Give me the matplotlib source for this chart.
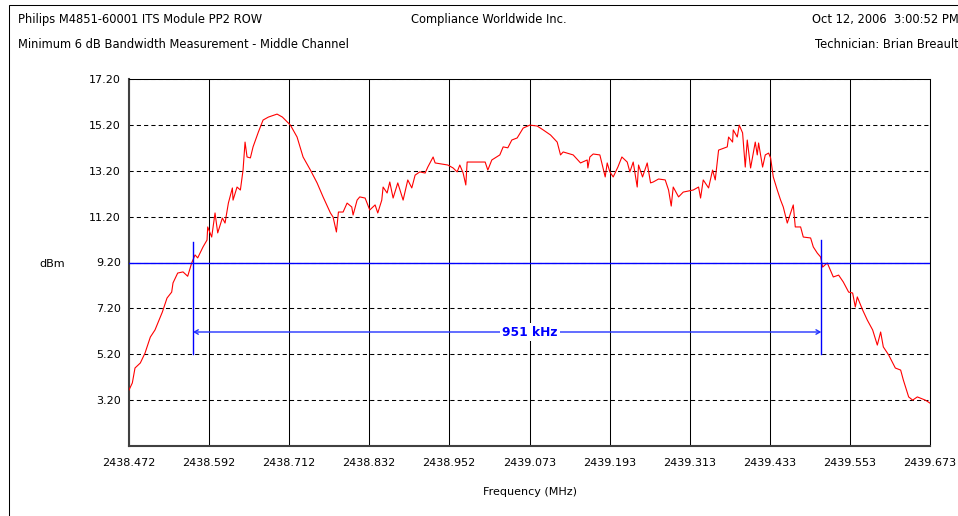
import matplotlib
matplotlib.use("Agg")
import matplotlib.pyplot as plt
from matplotlib.patches import Rectangle

# Spectrum trace (frequency in MHz, level in dBm)
freq_mhz = [
    2438.472, 2438.477, 2438.481, 2438.489, 2438.496, 2438.504, 2438.511, 2438.522,
    2438.529, 2438.536, 2438.538, 2438.545, 2438.553, 2438.560, 2438.566, 2438.571,
    2438.575, 2438.583, 2438.589, 2438.590, 2438.596, 2438.601, 2438.605, 2438.612,
    2438.616, 2438.621, 2438.627, 2438.628, 2438.634, 2438.639, 2438.643, 2438.646,
    2438.649, 2438.654, 2438.658, 2438.666, 2438.673, 2438.681, 2438.694, 2438.702,
    2438.714, 2438.724, 2438.733, 2438.744, 2438.754, 2438.763, 2438.774, 2438.778,
    2438.783, 2438.786, 2438.793, 2438.799, 2438.806, 2438.808, 2438.814, 2438.818,
    2438.826, 2438.833, 2438.841, 2438.845, 2438.851, 2438.853, 2438.859, 2438.863,
    2438.868, 2438.875, 2438.883, 2438.890, 2438.896, 2438.901, 2438.908, 2438.916,
    2438.920, 2438.928, 2438.931, 2438.950, 2438.958, 2438.964, 2438.968, 2438.973,
    2438.977, 2438.979, 2439.006, 2439.010, 2439.016, 2439.028, 2439.033, 2439.040,
    2439.046, 2439.054, 2439.063, 2439.073, 2439.084, 2439.093, 2439.104, 2439.114,
    2439.119, 2439.123, 2439.138, 2439.149, 2439.159, 2439.160, 2439.163, 2439.168,
    2439.178, 2439.186, 2439.189, 2439.193, 2439.198, 2439.205, 2439.211, 2439.219,
    2439.223, 2439.228, 2439.234, 2439.236, 2439.242, 2439.249, 2439.254, 2439.258,
    2439.266, 2439.276, 2439.281, 2439.285, 2439.288, 2439.296, 2439.303, 2439.318,
    2439.326, 2439.329, 2439.333, 2439.341, 2439.347, 2439.351, 2439.356, 2439.369,
    2439.371, 2439.377, 2439.378, 2439.384, 2439.387, 2439.392, 2439.396, 2439.399,
    2439.404, 2439.411, 2439.414, 2439.416, 2439.422, 2439.426, 2439.431, 2439.434,
    2439.438, 2439.444, 2439.449, 2439.453, 2439.459, 2439.464, 2439.468, 2439.471,
    2439.479, 2439.483, 2439.494, 2439.498, 2439.504, 2439.509, 2439.512, 2439.519,
    2439.528, 2439.536, 2439.543, 2439.551, 2439.557, 2439.561, 2439.564, 2439.572,
    2439.579, 2439.587, 2439.594, 2439.599, 2439.603, 2439.611, 2439.621, 2439.629,
    2439.633, 2439.641, 2439.647, 2439.654, 2439.666, 2439.673,
]
level_dbm = [
    3.64, 3.95, 4.60, 4.82, 5.25, 5.95, 6.26, 7.04,
    7.65, 7.91, 8.31, 8.74, 8.79, 8.60, 9.18, 9.53,
    9.40, 9.88, 10.18, 10.75, 10.31, 11.36, 10.49, 11.14,
    10.92, 11.79, 12.45, 11.92, 12.49, 12.36, 13.23, 14.45,
    13.80, 13.76, 14.24, 14.89, 15.41, 15.54, 15.67, 15.54,
    15.19, 14.67, 13.80, 13.23, 12.67, 12.06, 11.36, 11.18,
    10.53, 11.40, 11.40, 11.79, 11.62, 11.27, 11.92, 12.06,
    12.01, 11.49, 11.71, 11.36, 11.92, 12.49, 12.23, 12.71,
    12.01, 12.67, 11.92, 12.80, 12.45, 13.01, 13.15, 13.10,
    13.36, 13.80, 13.54, 13.45, 13.32, 13.15, 13.45, 13.10,
    12.58, 13.58, 13.58, 13.23, 13.67, 13.89, 14.24, 14.20,
    14.54, 14.63, 15.06, 15.19, 15.15, 14.98, 14.76, 14.45,
    13.89, 14.02, 13.89, 13.54, 13.67, 13.32, 13.80, 13.93,
    13.89, 12.93, 13.54, 13.15, 12.93, 13.36, 13.80, 13.58,
    13.15, 13.58, 12.49, 13.45, 12.93, 13.54, 12.67, 12.71,
    12.84, 12.80, 12.36, 11.66, 12.49, 12.06, 12.27, 12.36,
    12.49, 12.01, 12.80, 12.45, 13.23, 12.80, 14.10, 14.24,
    14.67, 14.45, 14.98, 14.67, 15.19, 14.85, 13.36, 14.54,
    13.32, 14.45, 13.89, 14.41, 13.36, 13.89, 13.97, 13.76,
    12.93, 12.36, 11.92, 11.62, 10.92, 11.36, 11.71, 10.75,
    10.75, 10.31, 10.27, 9.88, 9.61, 9.44, 9.00, 9.18,
    8.57, 8.65, 8.35, 7.91, 7.87, 7.26, 7.70, 7.13,
    6.69, 6.26, 5.60, 6.17, 5.52, 5.17, 4.60, 4.51,
    4.08, 3.34, 3.20, 3.34, 3.20, 3.07,
]

# Bandwidth markers
ref_level = 9.20
bw_left = 2438.568
bw_right = 2439.510
bw_marker_top = [10.09, 10.20]
bw_marker_bottom = 5.21
bw_arrow_level = 6.17
bw_label = "951 kHz"
bw_label_freq = 2439.073

xticks = [2438.472, 2438.592, 2438.712, 2438.832, 2438.952, 2439.073,
          2439.193, 2439.313, 2439.433, 2439.553, 2439.673]
yticks = [3.20, 5.20, 7.20, 9.20, 11.20, 13.20, 15.20, 17.20]

plt.rcParams['font.family'] = 'DejaVu Sans'
plt.rcParams['font.size'] = 8

W, H = 958, 516
fig = plt.figure(figsize=(W / 100, H / 100), dpi=100)
fig.patch.set_facecolor('white')

# outer frame of the report page (right/bottom edges cut off)
fig.patches.append(Rectangle((8.5 / W, -0.1), 1.2, 1.1 - 4.5 / H, transform=fig.transFigure,
                             fill=False, lw=0.75, ec='black'))

ax = fig.add_axes([129 / W, 70 / H, 801 / W, 367 / H])
ax.set_xlim(xticks[0], xticks[-1])
ax.set_ylim(1.20, 17.20)

ax.set_xticks(xticks)
ax.set_xticklabels(["%.3f" % t for t in xticks])
ax.set_yticks(yticks)
ax.set_yticklabels(["%.2f" % t for t in yticks])
ax.tick_params(length=0, pad=6, colors='black')
ax.tick_params(axis='x', pad=9)

ax.xaxis.grid(True, color='black', lw=0.75, ls='-')
ax.yaxis.grid(True, color='black', lw=0.75, ls=(0, (4, 3)))
ax.set_axisbelow(True)

for side in ['top', 'right']:
    ax.spines[side].set_linewidth(0.75)
    ax.spines[side].set_color('black')
for side in ['left', 'bottom']:
    ax.spines[side].set_linewidth(1.5)
    ax.spines[side].set_color('#404040')

# trace
ax.plot(freq_mhz, level_dbm, color='#ff0000', lw=0.8, zorder=3)

# -6 dB reference line and bandwidth markers
ax.axhline(ref_level, color='#0000ff', lw=1.0, zorder=4)
ax.plot([bw_left, bw_left], [bw_marker_top[0], bw_marker_bottom], color='#0000ff', lw=1.0, zorder=4)
ax.plot([bw_right, bw_right], [bw_marker_top[1], bw_marker_bottom], color='#0000ff', lw=1.0, zorder=4)
ax.annotate('', xy=(bw_left, bw_arrow_level), xytext=(bw_right, bw_arrow_level),
            arrowprops=dict(arrowstyle='<->,head_length=0.35,head_width=0.2',
                            color='#2233ff', lw=1.0, shrinkA=0, shrinkB=0), zorder=4)
ax.text(bw_label_freq, bw_arrow_level, bw_label, color='#0000ff',
        fontweight='bold', fontsize=8.8, ha='center', va='center', zorder=5,
        bbox=dict(facecolor='white', edgecolor='none', pad=1.5))

# header and labels
hdr = 8.3
fig.text(18 / W, 1 - 20 / H, "Philips M4851-60001 ITS Module PP2 ROW", va='center', ha='left', fontsize=hdr)
fig.text(489 / W, 1 - 20 / H, "Compliance Worldwide Inc.", va='center', ha='center', fontsize=hdr)
fig.text(812 / W, 1 - 20 / H, "Oct 12, 2006  3:00:52 PM", va='center', ha='left', fontsize=hdr)
fig.text(18 / W, 1 - 45 / H, "Minimum 6 dB Bandwidth Measurement - Middle Channel", va='center', ha='left',
         fontsize=hdr)
fig.text(815 / W, 1 - 45 / H, "Technician: Brian Breault", va='center', ha='left', fontsize=hdr)
fig.text(52 / W, 1 - 264 / H, "dBm", va='center', ha='center')
fig.text(530 / W, 1 - 492 / H, "Frequency (MHz)", va='center', ha='center')

fig.savefig('out.png', dpi=100)
